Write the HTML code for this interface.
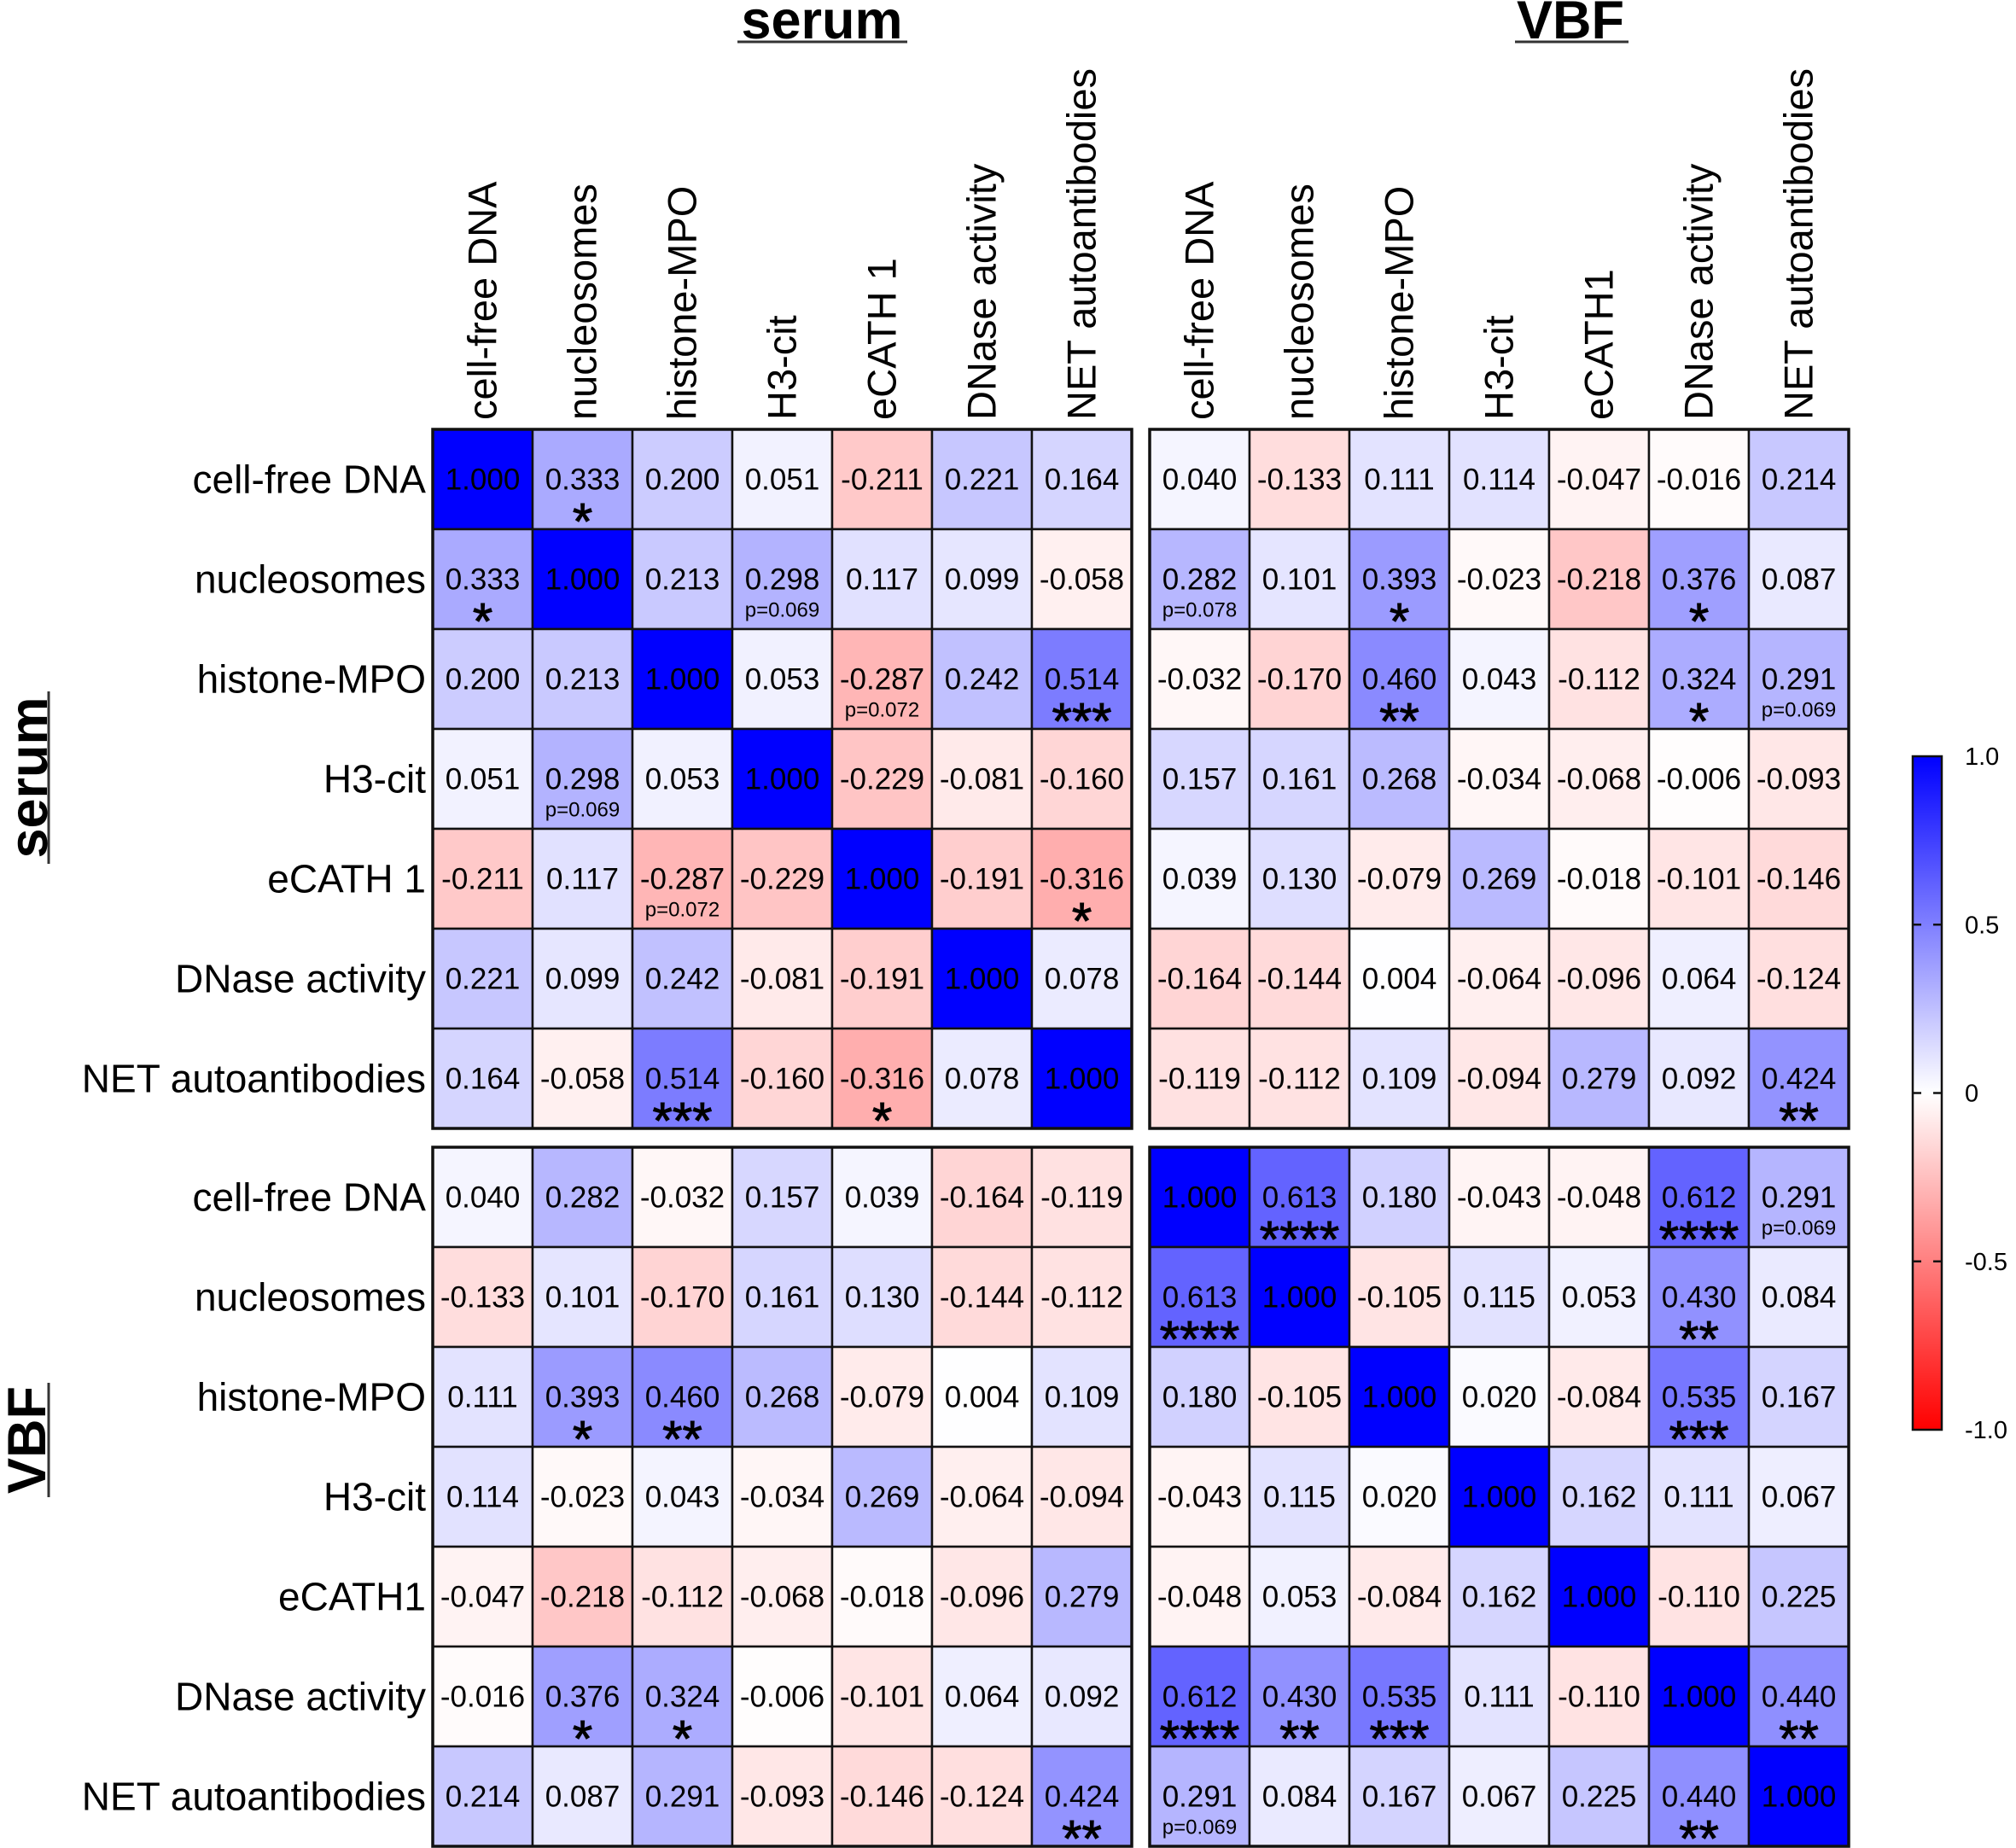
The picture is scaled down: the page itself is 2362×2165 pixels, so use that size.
<!DOCTYPE html>
<html><head><meta charset="utf-8"><style>
html,body{margin:0;padding:0;background:#fff;}
svg{display:block;font-family:"Liberation Sans",Arial,sans-serif;}
</style></head><body>
<svg id="chart" width="2362" height="2165" viewBox="0 0 2362 2165" xmlns="http://www.w3.org/2000/svg">
<g>
<text x="963" y="45" font-size="63" font-weight="bold" text-anchor="middle">serum</text>
<line x1="864" x2="1063" y1="49" y2="49" stroke="#333" stroke-width="3"/>
<text x="1840" y="45" font-size="63" font-weight="bold" text-anchor="middle">VBF</text>
<line x1="1775" x2="1908" y1="49" y2="49" stroke="#333" stroke-width="3"/>
<text transform="translate(55,911) rotate(-90)" font-size="63" font-weight="bold" text-anchor="middle">serum</text>
<line x1="57" x2="57" y1="810" y2="1012" stroke="#333" stroke-width="3"/>
<text transform="translate(53,1687) rotate(-90)" font-size="63" font-weight="bold" text-anchor="middle">VBF</text>
<line x1="57" x2="57" y1="1620" y2="1754" stroke="#333" stroke-width="3"/>
</g>
<g id="cells"></g>
<g id="labels"></g>
<g id="cbar"></g>
</svg>
<script>
const rowLabels = ["cell-free DNA","nucleosomes","histone-MPO","H3-cit","eCATH 1","DNase activity","NET autoantibodies","cell-free DNA","nucleosomes","histone-MPO","H3-cit","eCATH1","DNase activity","NET autoantibodies"];
const colLabels = ["cell-free DNA","nucleosomes","histone-MPO","H3-cit","eCATH 1","DNase activity","NET autoantibodies","cell-free DNA","nucleosomes","histone-MPO","H3-cit","eCATH1","DNase activity","NET autoantibodies"];
const values = [
[1.000,0.333,0.200,0.051,-0.211,0.221,0.164,0.040,-0.133,0.111,0.114,-0.047,-0.016,0.214],
[0.333,1.000,0.213,0.298,0.117,0.099,-0.058,0.282,0.101,0.393,-0.023,-0.218,0.376,0.087],
[0.200,0.213,1.000,0.053,-0.287,0.242,0.514,-0.032,-0.170,0.460,0.043,-0.112,0.324,0.291],
[0.051,0.298,0.053,1.000,-0.229,-0.081,-0.160,0.157,0.161,0.268,-0.034,-0.068,-0.006,-0.093],
[-0.211,0.117,-0.287,-0.229,1.000,-0.191,-0.316,0.039,0.130,-0.079,0.269,-0.018,-0.101,-0.146],
[0.221,0.099,0.242,-0.081,-0.191,1.000,0.078,-0.164,-0.144,0.004,-0.064,-0.096,0.064,-0.124],
[0.164,-0.058,0.514,-0.160,-0.316,0.078,1.000,-0.119,-0.112,0.109,-0.094,0.279,0.092,0.424],
[0.040,0.282,-0.032,0.157,0.039,-0.164,-0.119,1.000,0.613,0.180,-0.043,-0.048,0.612,0.291],
[-0.133,0.101,-0.170,0.161,0.130,-0.144,-0.112,0.613,1.000,-0.105,0.115,0.053,0.430,0.084],
[0.111,0.393,0.460,0.268,-0.079,0.004,0.109,0.180,-0.105,1.000,0.020,-0.084,0.535,0.167],
[0.114,-0.023,0.043,-0.034,0.269,-0.064,-0.094,-0.043,0.115,0.020,1.000,0.162,0.111,0.067],
[-0.047,-0.218,-0.112,-0.068,-0.018,-0.096,0.279,-0.048,0.053,-0.084,0.162,1.000,-0.110,0.225],
[-0.016,0.376,0.324,-0.006,-0.101,0.064,0.092,0.612,0.430,0.535,0.111,-0.110,1.000,0.440],
[0.214,0.087,0.291,-0.093,-0.146,-0.124,0.424,0.291,0.084,0.167,0.067,0.225,0.440,1.000]
];
const annotations = [
["","*","","","","","","","","","","","",""],
["*","","","p=0.069","","","","p=0.078","","*","","","*",""],
["","","","","p=0.072","","***","","","**","","","*","p=0.069"],
["","p=0.069","","","","","","","","","","","",""],
["","","p=0.072","","","","*","","","","","","",""],
["","","","","","","","","","","","","",""],
["","","***","","*","","","","","","","","","**"],
["","","","","","","","","****","","","","****","p=0.069"],
["","","","","","","","****","","","","","**",""],
["","*","**","","","","","","","","","","***",""],
["","","","","","","","","","","","","",""],
["","","","","","","","","","","","","",""],
["","*","*","","","","","****","**","***","","","","**"],
["","","","","","","**","p=0.069","","","","","**",""]
];
const cbarTicks = [1.0,0.5,0,-0.5,-1.0];
const cbarTickLabels = ["1.0","0.5","0","-0.5","-1.0"];

const NS="http://www.w3.org/2000/svg";
const blockX=[507,1347], blockY=[503,1344], CELL=117;
function xPos(j){return blockX[j<7?0:1]+(j%7)*CELL;}
function yPos(i){return blockY[i<7?0:1]+(i%7)*CELL;}
function color(v){
  v=Math.max(-1,Math.min(1,v));
  if(v>=0){const c=Math.round(255*(1-v));return `rgb(${c},${c},255)`;}
  const c=Math.round(255*(1+v));return `rgb(255,${c},${c})`;
}
function mk(tag,attrs,parent){const e=document.createElementNS(NS,tag);for(const k in attrs)e.setAttribute(k,attrs[k]);parent.appendChild(e);return e;}

const cells=document.getElementById('cells');
for(let i=0;i<values.length;i++){
  for(let j=0;j<values[i].length;j++){
    const v=values[i][j], x=xPos(j), y=yPos(i);
    const r=mk('rect',{x:x,y:y,width:CELL,height:CELL,fill:color(v),stroke:'#111','stroke-width':2.5},cells);
    
    
    const t=mk('text',{x:x+CELL/2,y:y+CELL/2+12,'font-size':35,'text-anchor':'middle'},cells);
    
    
    t.textContent=v.toFixed(3);
    const a=annotations[i][j];
    if(a){
      if(a[0]==='*'){
        const s=mk('text',{x:x+CELL/2,y:y+CELL/2+70,'font-size':60,'text-anchor':'middle',stroke:'#000','stroke-width':1},cells);
        
        
        s.textContent=a;
      } else {
        const p=mk('text',{x:x+CELL/2,y:y+CELL/2+44,'font-size':24,'text-anchor':'middle'},cells);
        
        
        p.textContent=a;
      }
    }
  }
}
for(const bx of blockX){for(const by of blockY){
  const f=mk('rect',{x:bx,y:by,width:7*CELL,height:7*CELL,fill:'none',stroke:'#111','stroke-width':3.5},cells);
  
  
}}
const labels=document.getElementById('labels');
rowLabels.forEach((l,i)=>{
  const t=mk('text',{x:499,y:yPos(i)+CELL/2+16,'font-size':46,'text-anchor':'end'},labels);
  
  
  t.textContent=l;
});
colLabels.forEach((l,j)=>{
  const cx=xPos(j)+CELL/2+16;
  const t=mk('text',{transform:`translate(${cx},492) rotate(-90)`,'font-size':47,'text-anchor':'start'},labels);
  
  
  t.textContent=l;
});
const cb=document.getElementById('cbar');
const CBX=2241,CBW=34,CBT=886,CBB=1675;
function cbY(v){return CBT+(1-v)/2*(CBB-CBT);}
const defs=mk('defs',{},cb);
const g=mk('linearGradient',{id:'cg',x1:0,y1:0,x2:0,y2:1},defs);
mk('stop',{offset:'0','stop-color':'rgb(0,0,255)'},g);
mk('stop',{offset:'0.5','stop-color':'#fff'},g);
mk('stop',{offset:'1','stop-color':'rgb(255,0,0)'},g);
const bar=mk('rect',{x:CBX,y:CBT,width:CBW,height:CBB-CBT,fill:'url(#cg)',stroke:'#111','stroke-width':2.5},cb);


cbarTicks.forEach((v,k)=>{
  const y=cbY(v);
  if(Math.abs(v)<1){
    mk('line',{x1:CBX,x2:CBX+10,y1:y,y2:y,stroke:'#111','stroke-width':2.5},cb);
    mk('line',{x1:CBX+CBW-10,x2:CBX+CBW,y1:y,y2:y,stroke:'#111','stroke-width':2.5},cb);
  }
  const t=mk('text',{x:2302,y:y+10,'font-size':29},cb);
  
  
  t.textContent=cbarTickLabels[k];
});
</script>
</body></html>
